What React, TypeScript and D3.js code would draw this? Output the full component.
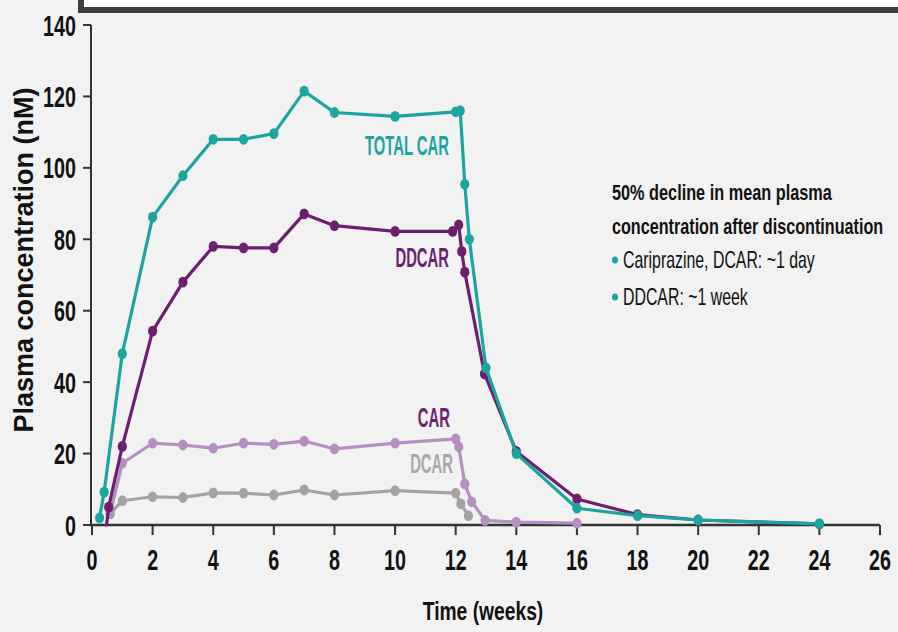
import React from "react";
import * as d3 from "d3";

const W = 898;
const H = 632;

// Axis ticks
const xTicks = [0, 2, 4, 6, 8, 10, 12, 14, 16, 18, 20, 22, 24, 26];
const yTicks = [0, 20, 40, 60, 80, 100, 120, 140];

// Total cariprazine (CAR + DCAR + DDCAR)
const totalWeeks = [0.25, 0.4, 1, 2, 3, 4, 5, 6, 7, 8, 10, 12, 12.15, 12.3, 12.45, 13, 14, 16, 18, 20, 24];
const totalValues = [2, 9.2, 48, 86.2, 97.8, 108, 108, 109.6, 121.5, 115.5, 114.4, 115.7, 116, 95.4, 80, 44, 20, 4.7, 2.6, 1.4, 0.3];

// Didesmethyl-cariprazine
const ddcarWeeks = [0.48, 0.55, 1, 2, 3, 4, 5, 6, 7, 8, 10, 11.9, 12.1, 12.2, 12.3, 12.95, 14, 16, 18, 20, 24];
const ddcarValues = [0, 5, 22, 54.3, 68, 78, 77.6, 77.6, 87.1, 83.8, 82.2, 82.2, 84, 76.6, 70.8, 42.3, 20.6, 7.3, 2.9, 1.4, 0.3];

// Cariprazine (parent)
const carWeeks = [0.6, 1, 2, 3, 4, 5, 6, 7, 8, 10, 12, 12.1, 12.3, 12.53, 12.97, 14, 16];
const carValues = [3.2, 17.3, 22.9, 22.4, 21.5, 22.9, 22.6, 23.5, 21.3, 22.9, 24.1, 21.9, 11.5, 6.5, 1.3, 0.8, 0.5];

// Desmethyl-cariprazine
const dcarWeeks = [0.6, 1, 2, 3, 4, 5, 6, 7, 8, 10, 12, 12.17, 12.42];
const dcarValues = [3.2, 6.8, 7.9, 7.7, 9, 8.9, 8.4, 9.8, 8.4, 9.6, 8.9, 5.9, 2.6];

const seriesNames = ["DCAR", "CAR", "DDCAR", "TOTAL CAR"];
const seriesColors = ["#a3a3a3", "#b58fc1", "#6c1f6f", "#1ba59f"];

const legendTitle = ["50% decline in mean plasma", "concentration after discontinuation"];
const legendItems = ["Cariprazine, DCAR: ~1 day", "DDCAR: ~1 week"];

const SANS = "'Liberation Sans', Arial, Helvetica, sans-serif";

type Pt = { w: number; v: number };

function zip(ws: number[], vs: number[]): Pt[] {
  return ws.map((w, i) => ({ w, v: vs[i] }));
}

// Text squeezed horizontally to read like a condensed face
function CText(props: {
  x: number;
  y: number;
  text: string | number;
  size: number;
  fill: string;
  sx: number;
  weight?: string | number;
  anchor?: "start" | "middle" | "end";
}) {
  const { x, y, text, size, fill, sx, weight = "bold", anchor = "start" } = props;
  return (
    <g transform={`translate(${x},${y}) scale(${sx},1)`}>
      <text
        x={0}
        y={0}
        fontFamily={SANS}
        fontSize={size}
        fontWeight={weight}
        fill={fill}
        textAnchor={anchor}
      >
        {text}
      </text>
    </g>
  );
}

export default function App() {
  const x = d3.scaleLinear().domain([0, 26]).range([92, 880]);
  const y = d3.scaleLinear().domain([0, 140]).range([525, 25]);

  const series = [
    zip(dcarWeeks, dcarValues),
    zip(carWeeks, carValues),
    zip(ddcarWeeks, ddcarValues),
    zip(totalWeeks, totalValues),
  ];

  const line = d3
    .line<Pt>()
    .x((d) => x(d.w))
    .y((d) => y(d.v));

  const axisColor = "#333";

  // curve labels: right edge and baseline beside each curve
  const labelSpecs = [
    { i: 0, x: 453, y: 473, fill: "#a8a8a8" },
    { i: 1, x: 450, y: 427, fill: "#6c1f6f" },
    { i: 2, x: 449, y: 267, fill: "#6c1f6f" },
    { i: 3, x: 449, y: 155, fill: "#1ba59f" },
  ];

  return (
    <svg
      width={W}
      height={H}
      viewBox={`0 0 ${W} ${H}`}
      style={{ position: "fixed", left: 0, top: 0, display: "block" }}
    >
      <rect x={0} y={0} width={W} height={H} fill="#f2f2f2" />
      {/* framed panel edge along the top */}
      <rect x={81} y={-20} width={860} height={30} fill="#ffffff" stroke="#3e3e3e" strokeWidth={6} />

      {/* Y axis */}
      <line x1={91} x2={91} y1={y(140)} y2={y(0)} stroke={axisColor} strokeWidth={2} />
      {yTicks.map((t) => (
        <g key={`yt${t}`}>
          <line x1={83} x2={91} y1={y(t)} y2={y(t)} stroke={axisColor} strokeWidth={2} />
          <CText x={76} y={y(t) + 10.5} text={t} size={29} fill="#111" sx={0.68} anchor="end" />
        </g>
      ))}

      {/* X axis */}
      <line x1={90} x2={x(26)} y1={y(0)} y2={y(0)} stroke={axisColor} strokeWidth={2.5} />
      {xTicks.map((t) => (
        <g key={`xt${t}`}>
          <line x1={x(t)} x2={x(t)} y1={y(0)} y2={y(0) + 10} stroke={axisColor} strokeWidth={2} />
          <CText x={x(t)} y={570} text={t} size={29} fill="#111" sx={0.68} anchor="middle" />
        </g>
      ))}

      {/* Axis titles */}
      <CText x={483} y={620} text="Time (weeks)" size={25} fill="#111" sx={0.77} anchor="middle" />
      <g transform="translate(33,260) rotate(-90)">
        <text
          x={0}
          y={0}
          fontFamily={SANS}
          fontSize={27}
          fontWeight="bold"
          fill="#111"
          textAnchor="middle"
        >
          Plasma concentration (nM)
        </text>
      </g>

      {/* Concentration curves */}
      {series.map((pts, i) => (
        <g key={seriesNames[i]}>
          <path
            d={line(pts) || ""}
            fill="none"
            stroke={seriesColors[i]}
            strokeWidth={3.2}
            strokeLinejoin="round"
            strokeLinecap="round"
          />
          {pts
            .filter((p) => p.v > 0)
            .map((p, j) => (
              <ellipse key={j} cx={x(p.w)} cy={y(p.v)} rx={4.6} ry={5.4} fill={seriesColors[i]} />
            ))}
        </g>
      ))}

      {/* Curve labels */}
      {labelSpecs.map((s) => (
        <CText
          key={`lab${s.i}`}
          x={s.x}
          y={s.y}
          text={seriesNames[s.i]}
          size={28}
          fill={s.fill}
          sx={0.53}
          anchor="end"
        />
      ))}

      {/* Half-life note */}
      <CText x={612} y={200} text={legendTitle[0]} size={22} fill="#111" sx={0.74} />
      <CText x={612} y={234} text={legendTitle[1]} size={22} fill="#111" sx={0.735} />
      {legendItems.map((t, i) => (
        <g key={t}>
          <ellipse cx={615} cy={260 + i * 37} rx={3} ry={3.5} fill="#1ba59f" />
          <CText x={623} y={268 + i * 37} text={t} size={23} fill="#111" weight="normal" sx={0.69} />
        </g>
      ))}
    </svg>
  );
}
